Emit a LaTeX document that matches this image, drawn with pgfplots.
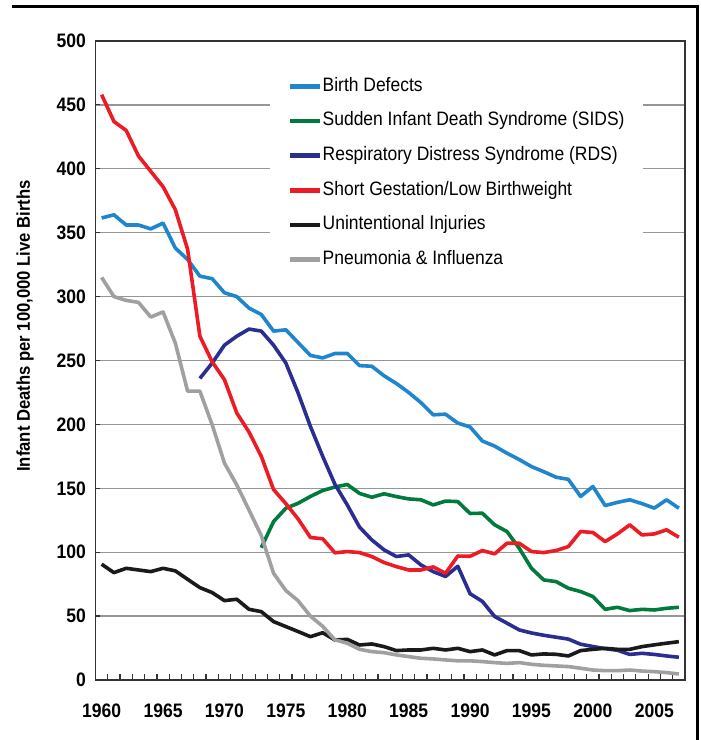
\documentclass[border=0pt]{standalone}
\usepackage{fontspec}
\setmainfont{Liberation Sans}[FakeStretch=0.9]
\usepackage{pgfplots}
\pgfplotsset{compat=1.18}
\definecolor{cBD}{RGB}{31,133,204}
\definecolor{cSIDS}{RGB}{0,122,61}
\definecolor{cRDS}{RGB}{43,46,145}
\definecolor{cSG}{RGB}{237,28,36}
\definecolor{cUI}{RGB}{26,26,26}
\definecolor{cPI}{RGB}{160,160,160}
\definecolor{cGrid}{RGB}{150,150,150}
\begin{document}
\begin{tikzpicture}
\path[use as bounding box] (0pt,0pt) rectangle (701pt,740pt);
\draw[line width=3pt, black] (12pt,733pt) -- (697pt,733pt) -- (697pt,0pt);
\begin{axis}[
  at={(95.5pt,60pt)}, anchor=south west,
  scale only axis, width=589.5pt, height=639pt,
  xmin=1959.5, xmax=2007.5, ymin=0, ymax=500,
  axis line style={draw=black!80, line width=1.5pt},
  ytick={0,50,...,500},
  xtick={1960,1965,...,2005},
  minor xtick={1960.5,1961.5,...,2006.5},
  tick align=inside,
  xtick pos=bottom, ytick pos=left,
  major tick length=5pt, minor tick length=6pt,
  tick style={black!80, line width=1.2pt},
  major x tick style={draw=none},
  ymajorgrids,
  grid style={cGrid, line width=1.3pt},
  /pgf/number format/assume math mode=true,
  ticklabel style={font=\fontsize{19.5}{20}\selectfont\bfseries},
  x tick label style={/pgf/number format/1000 sep={}, yshift=-20pt},
  y tick label style={xshift=-6pt},
  no markers,
  every axis plot/.append style={line width=3.6pt, line join=round},
  legend cell align=left,
  legend image code/.code={\draw[line width=4.5pt] (0pt,0pt) -- (30pt,0pt);},
  legend style={at={(rel axis cs:0.296,0.967)}, anchor=north west,
    draw=none, fill=white, inner xsep=18pt, inner ysep=15pt,
    row sep=16.1pt, column sep=0pt,
    font=\fontsize{19.4}{20}\selectfont,
    nodes={inner sep=0pt, text height=14pt, text depth=4.5pt}},
]
\addplot[cBD] coordinates {
(1960,361.5)(1961,364)(1962,356)(1963,356)(1964,353)(1965,357.5)(1966,338)(1967,329)(1968,316)(1969,314)
(1970,303)(1971,300)(1972,291)(1973,286)(1974,273)(1975,274)(1976,264)(1977,254)(1978,252)(1979,255.5)
(1980,255.5)(1981,246)(1982,245.5)(1983,238)(1984,232)(1985,225)(1986,217)(1987,207.5)(1988,208)(1989,201)
(1990,198)(1991,187)(1992,183)(1993,177.5)(1994,172.5)(1995,167)(1996,163)(1997,158.7)(1998,157)(1999,143.6)
(2000,151.4)(2001,136.5)(2002,139)(2003,141)(2004,138)(2005,134.5)(2006,141)(2007,134.4)};
\addlegendentry{Birth Defects}
\addplot[cSIDS] coordinates {
(1973,103.5)(1974,124)(1975,134.4)(1976,138.3)(1977,143.6)(1978,148.3)(1979,151)
(1980,153)(1981,146)(1982,143)(1983,145.7)(1984,143.5)(1985,141.7)(1986,141)(1987,137)(1988,140)(1989,139.6)
(1990,130.3)(1991,130.5)(1992,121.4)(1993,116.2)(1994,103.1)(1995,87.4)(1996,78.3)(1997,77)(1998,71.8)(1999,69.2)
(2000,65.3)(2001,55.3)(2002,56.9)(2003,54.3)(2004,55.3)(2005,54.8)(2006,56.1)(2007,56.9)};
\addlegendentry{Sudden Infant Death Syndrome (SIDS)}
\addplot[cRDS] coordinates {
(1968,236)(1969,248)
(1970,262)(1971,269)(1972,274.6)(1973,273)(1974,262)(1975,248)(1976,224.5)(1977,198.4)(1978,175)(1979,153)
(1980,137)(1981,119.6)(1982,109.6)(1983,101.8)(1984,96.6)(1985,97.9)(1986,90)(1987,84.8)(1988,81)(1989,89)
(1990,67.5)(1991,61.5)(1992,49.7)(1993,44.5)(1994,39.2)(1995,36.8)(1996,35)(1997,33.5)(1998,32)(1999,28)
(2000,26.2)(2001,24.5)(2002,23.3)(2003,20)(2004,20.9)(2005,20)(2006,18.8)(2007,17.8)};
\addlegendentry{Respiratory Distress Syndrome (RDS)}
\addplot[cSG] coordinates {
(1960,458)(1961,437)(1962,430)(1963,410)(1964,398)(1965,386)(1966,368)(1967,337)(1968,269)(1969,249)
(1970,235)(1971,209)(1972,194)(1973,175)(1974,149)(1975,138)(1976,126)(1977,111.5)(1978,110.5)(1979,99.5)
(1980,100.5)(1981,99.7)(1982,96.6)(1983,91.9)(1984,88.7)(1985,86.1)(1986,86.1)(1987,88.5)(1988,83.5)(1989,97)
(1990,96.8)(1991,101.3)(1992,98.7)(1993,107)(1994,107)(1995,100.5)(1996,99.7)(1997,101.3)(1998,104.4)(1999,116.2)
(2000,115.4)(2001,108.3)(2002,114.3)(2003,121.4)(2004,113.5)(2005,114.3)(2006,117.5)(2007,111.7)};
\addlegendentry{Short Gestation/Low Birthweight}
\addplot[cUI] coordinates {
(1960,90.6)(1961,84)(1962,87.4)(1963,86.1)(1964,84.8)(1965,87.4)(1966,85.4)(1967,78.8)(1968,72.3)(1969,68.4)
(1970,62.1)(1971,63.2)(1972,55.3)(1973,53.5)(1974,45.7)(1975,41.8)(1976,37.9)(1977,33.9)(1978,37)(1979,31.3)
(1980,31.8)(1981,27.4)(1982,28.2)(1983,26.1)(1984,23)(1985,23.5)(1986,23.5)(1987,24.8)(1988,23.5)(1989,24.8)
(1990,22.2)(1991,23.5)(1992,19.6)(1993,23)(1994,23)(1995,19.6)(1996,20.4)(1997,20.1)(1998,18.8)(1999,23)
(2000,24)(2001,24.8)(2002,24)(2003,24)(2004,26.1)(2005,27.5)(2006,28.8)(2007,30)};
\addlegendentry{Unintentional Injuries}
\addplot[cPI] coordinates {
(1960,315)(1961,300)(1962,297)(1963,295.5)(1964,284)(1965,288)(1966,263.6)(1967,226)(1968,226)(1969,199.7)
(1970,169.7)(1971,152.7)(1972,133)(1973,113)(1974,83.5)(1975,70)(1976,62)(1977,50)(1978,42)(1979,31.4)
(1980,28.8)(1981,24)(1982,22.2)(1983,21.4)(1984,19.6)(1985,18.3)(1986,17)(1987,16.5)(1988,15.7)(1989,15)
(1990,15)(1991,14.4)(1992,13.6)(1993,13)(1994,13.6)(1995,12.3)(1996,11.5)(1997,11)(1998,10.5)(1999,9.2)
(2000,7.8)(2001,7.3)(2002,7.3)(2003,7.8)(2004,7)(2005,6.5)(2006,5.8)(2007,4.7)};
\addlegendentry{Pneumonia \& Influenza}
\end{axis}
\node[rotate=90, font=\fontsize{18.5}{20}\selectfont\bfseries] at (25pt,414pt) {Infant Deaths per 100,000 Live Births};
\end{tikzpicture}
\end{document}
